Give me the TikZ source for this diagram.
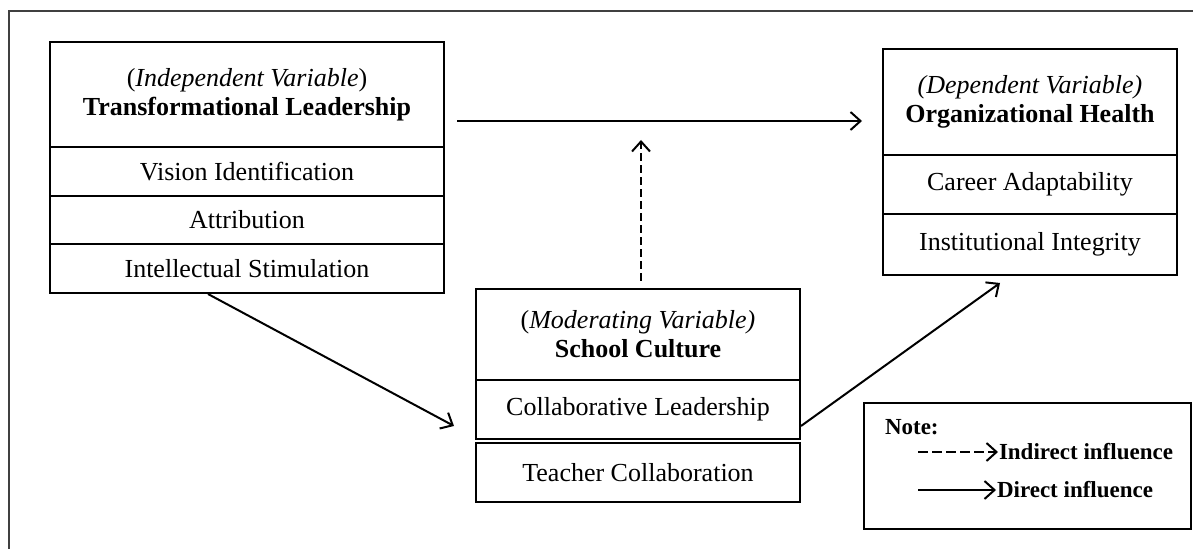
\documentclass[tikz,border=0pt]{standalone}
\usepackage{fontspec}
\setmainfont{Liberation Serif}
\usetikzlibrary{arrows.meta}

\begin{document}
\begin{tikzpicture}[x=0.5pt, y=-0.5pt, line width=1pt, font=\fontsize{13}{14.5}\selectfont,
  var box/.style={draw, rectangle, inner sep=0pt, align=center},
  link/.style={-{Straight Barb[length=5pt,width=9pt,line width=1pt]}},
  side link/.style={link, line width=1.2pt, dash pattern=on 4pt off 2pt}]
\useasboundingbox (0,0) rectangle (1193,549);
\draw [line width=0.8pt, black!75] (1193,11) -- (9,11) -- (9,549);

% independent variable
\node [var box, minimum width=197pt, minimum height=52.5pt] (tl) at (247,94.5)
  {(\textit{Independent Variable})\\\textbf{Transformational Leadership}};
\node [var box, minimum width=197pt, minimum height=24.5pt] (tl1) at (247,171.5) {Vision Identification};
\node [var box, minimum width=197pt, minimum height=24pt] (tl2) at (247,220) {Attribution};
\node [var box, minimum width=197pt, minimum height=24.5pt] (tl3) at (247,268.5) {Intellectual Stimulation};

% dependent variable
\node [var box, minimum width=147pt, minimum height=53pt] (oh) at (1030,102)
  {\textit{(Dependent Variable)}\\\textbf{Organizational Health}};
\node [var box, minimum width=147pt, minimum height=29.5pt] (oh1) at (1030,184.5) {Career Adaptability};
\node [var box, minimum width=147pt, minimum height=30.5pt] (oh2) at (1030,244.5) {Institutional Integrity};

% moderating variable
\node [var box, minimum width=162pt, minimum height=45.5pt] (sc) at (638,334.5)
  {(\textit{Moderating Variable)}\\\textbf{School Culture}};
\node [var box, minimum width=162pt, minimum height=29.5pt] (sc1) at (638,409.5) {Collaborative Leadership};
\node [var box, minimum width=162pt, minimum height=29.5pt] (sc2) at (638,472.5) {Teacher Collaboration};

% note
\node [draw, rectangle, line width=0.8pt, minimum width=163.5pt, minimum height=63pt] (note) at (1027.5,466) {};
\begin{scope}[font=\fontsize{11.5}{14}\selectfont]
\node [anchor=west, inner sep=0pt] (notehead) at (884,427) {\textbf{Note:}};
\node [anchor=west, inner sep=0pt] (ind) at (998,452) {\textbf{Indirect influence}};
\node [anchor=west, inner sep=0pt] (dir) at (996,490) {\textbf{Direct influence}};
\end{scope}
\coordinate (ind start) at (918,452);
\coordinate (dir start) at (918,490);
\draw [link, line width=1.2pt, dash pattern=on 5pt off 2pt] (ind start) -- (ind.west);
\draw [link, line width=1.2pt] (dir start) -- (dir.west);

% influences
\coordinate (main from) at (457,121);
\coordinate (main to) at (862,121);
\coordinate (mod from) at (641,281);
\coordinate (mod to) at (641,140);
\coordinate (tl out) at (208,294);
\coordinate (sc in) at (454,426);
\coordinate (sc out) at (801,426);
\coordinate (oh in) at (1000,283);
\draw [link] (main from) -- (main to);
\draw [side link] (mod from) -- (mod to);
\draw [link] (tl out) -- (sc in);
\draw [link] (sc out) -- (oh in);
\end{tikzpicture}
\end{document}
